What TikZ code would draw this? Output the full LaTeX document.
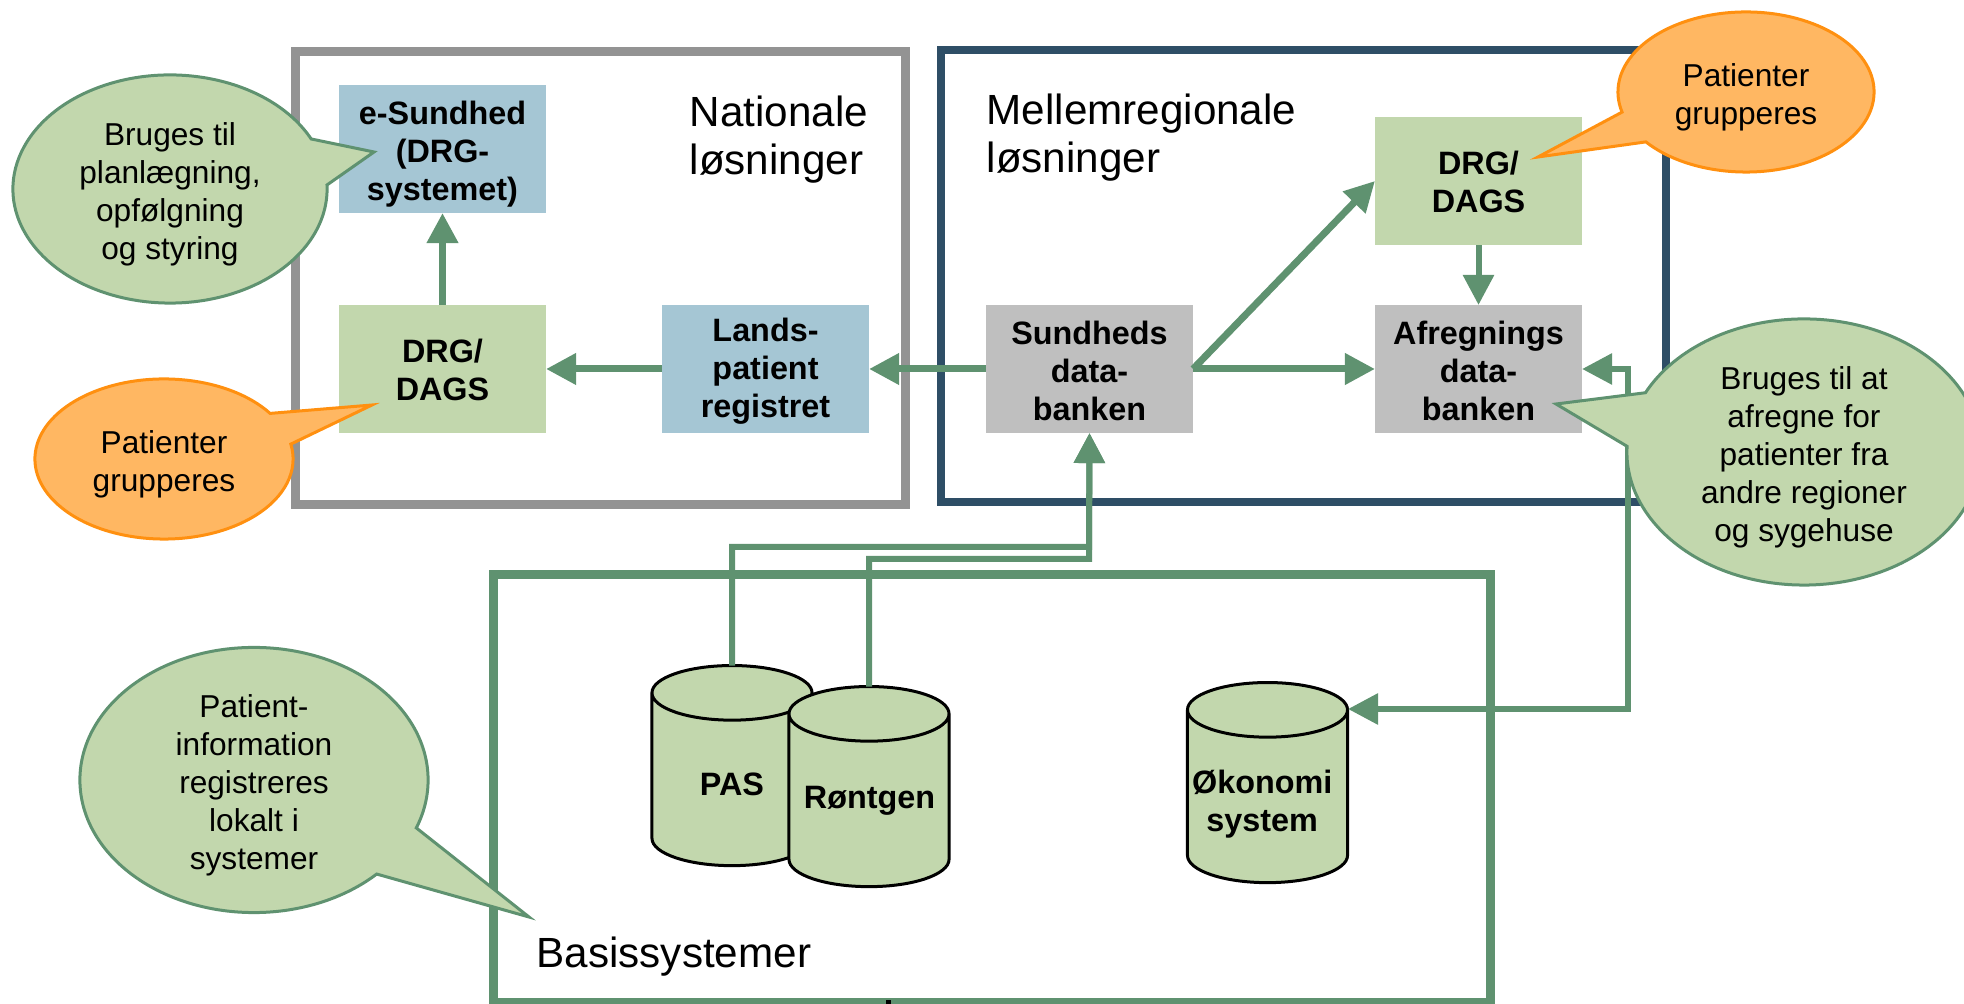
\documentclass[tikz,border=0pt]{standalone}
\usepackage{fontspec}
\setmainfont{Liberation Sans}
\usetikzlibrary{shapes.geometric,shapes.callouts,arrows.meta}

\definecolor{linkgreen}{HTML}{5F9270}
\definecolor{boxgreen}{HTML}{C2D7AD}
\definecolor{boxblue}{HTML}{A5C6D4}
\definecolor{boxgrey}{HTML}{BFBFBF}
\definecolor{framegrey}{HTML}{939393}
\definecolor{frameblue}{HTML}{2E4E66}
\definecolor{bubbleorange}{HTML}{FFB762}
\definecolor{edgeorange}{HTML}{FF9010}

% pushes a multi-line label down a little
\newcommand{\toprow}[1]{\rule{0pt}{#1pt}}

\tikzset{
    block/.style={minimum width=2.07cm, minimum height=1.28cm, inner sep=0pt, outer sep=0pt, align=center,
        font=\fontsize{9.2}{10.8}\selectfont\bfseries},
    frame/.style={draw, line width=0.09cm, inner sep=0pt},
    title/.style={align=left, inner sep=0pt, font=\fontsize{12}{13.7}\selectfont},
    link/.style={draw=linkgreen, line width=0.07cm, -{Triangle[length=0.3cm,width=0.3cm]}},
    feed/.style={link, line width=0.06cm},
    drum/.style={cylinder, shape border rotate=90, aspect=0.42, draw=black, line width=0.03cm,
        cylinder uses custom fill, cylinder body fill=boxgreen, cylinder end fill=boxgreen,
        minimum width=1.6cm, minimum height=2cm, inner sep=0pt, outer sep=0pt,
        text width=1.3cm, align=center, font=\fontsize{9.2}{10.8}\selectfont\bfseries},
    note/.style={ellipse callout, callout pointer arc=24, line width=0.03cm, inner sep=-0.1cm, align=center,
        font=\fontsize{9}{10.8}\selectfont},
    notegreen/.style={note, draw=linkgreen, fill=boxgreen},
    noteorange/.style={note, draw=edgeorange, fill=bubbleorange}
}

\begin{document}
\begin{tikzpicture}[x=0.01cm, y=-0.01cm]
    \useasboundingbox (0,0) rectangle (1964,1004);

    % the three frames
    \node[frame, draw=framegrey, minimum width=6.09cm, minimum height=4.525cm] (national) at (600.5,277.75) {};
    \node[frame, draw=frameblue, line width=0.08cm, minimum width=7.25cm, minimum height=4.52cm] (regional) at (1303.5,276) {};
    \node[frame, draw=linkgreen, minimum width=9.96cm, minimum height=4.27cm] (basis) at (992,788.5) {};
    \draw[black, line width=0.05cm] (888,1000) -- (888,1004);

    \node[title, anchor=west] (nationaltitle) at (689,140) {Nationale\\løsninger};
    \node[title, anchor=west] (regionaltitle) at (986,138) {Mellemregionale\\løsninger};
    \node[title, anchor=west] (basistitle) at (536,957) {Basissystemer};

    % boxes
    \node[block, fill=boxblue] (esundhed) at (442.5,149) {\toprow{9.5}e-Sundhed\\(DRG-\\systemet)};
    \node[block, fill=boxgreen] (drgleft) at (442.5,369) {\toprow{7.4}DRG/\\DAGS};
    \node[block, fill=boxblue] (lands) at (765.5,369) {\toprow{8}Lands-\\patient\\registret};
    \node[block, fill=boxgrey] (sundheds) at (1089.5,369) {\toprow{8}Sundheds\\data-\\banken};
    \node[block, fill=boxgrey] (afregnings) at (1478.5,369) {\toprow{8}Afregnings\\data-\\banken};
    \node[block, fill=boxgreen] (drgright) at (1478.5,181) {\toprow{7.4}DRG/\\DAGS};

    % databases
    \node[drum] (pas) at (732,780) {\toprow{9}PAS};
    \node[drum] (rontgen) at (869,801) {Røntgen};
    \node[drum] (okonomi) at (1267.5,797) {\toprow{11}\hspace*{-3pt}Økonomi\\\hspace*{-3pt}system};

    % arrows
    \draw[link] (drgleft) -- (esundhed);
    \draw[link] (lands) -- (drgleft);
    \draw[link] (sundheds) -- (lands);
    \draw[link] (sundheds.east) -- (drgright.west);
    \draw[link] (sundheds) -- (afregnings);
    \draw[link, line width=0.06cm] (drgright) -- (afregnings);

    \coordinate (pasbend) at (1089,547);
    \coordinate (rontgenbend) at (1089,559);
    \coordinate (okobend) at (1628,369);
    \coordinate (okoport) at (1348,709);
    \draw[feed] (pas.north) |- (pasbend) -- (sundheds.south);
    \draw[feed] (rontgen.north) |- (rontgenbend) -- (sundheds.south);
    \draw[feed, {Triangle[length=0.3cm,width=0.3cm]}-{Triangle[length=0.3cm,width=0.3cm]}]
        (afregnings.east) -- (okobend) |- (okoport);

    % callouts
    \node[notegreen, minimum width=3.14cm, minimum height=2.28cm, callout absolute pointer={(374,152)}]
        (usenote) at (170,189) {\toprow{9.5}Bruges til\\planlægning,\\opfølgning\\og styring};
    \node[noteorange, minimum width=2.58cm, minimum height=1.6cm, callout absolute pointer={(372,405)}]
        (groupleft) at (164,459) {\toprow{9.5}Patienter\\grupperes};
    \node[noteorange, minimum width=2.56cm, minimum height=1.6cm, callout absolute pointer={(1538,157)}]
        (groupright) at (1746,92) {\toprow{9.5}Patienter\\grupperes};
    \node[notegreen, minimum width=3.54cm, minimum height=2.66cm, callout absolute pointer={(1556,404)}]
        (paynote) at (1804,452) {\toprow{9.5}Bruges til at\\afregne for\\patienter fra\\andre regioner\\og sygehuse};
    \node[notegreen, minimum width=3.48cm, minimum height=2.65cm, callout absolute pointer={(529,917)}]
        (localnote) at (254,780) {\toprow{9.5}Patient-\\information\\registreres\\lokalt i\\systemer};
\end{tikzpicture}
\end{document}
